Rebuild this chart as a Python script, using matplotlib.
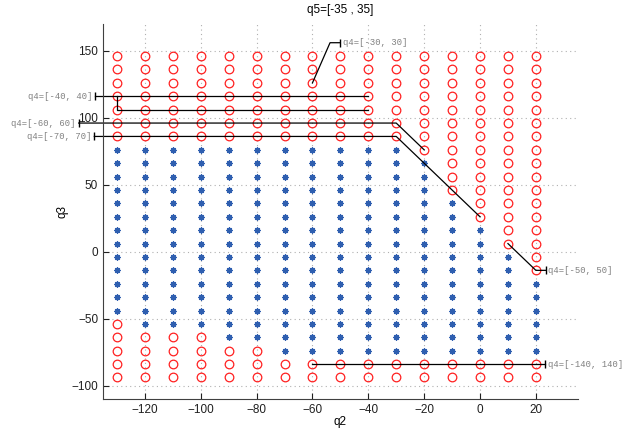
import numpy as np
import matplotlib.pyplot as plt

# grid of sampled q2 / q3 values
q2_vals = [-130, -120, -110, -100, -90, -80, -70, -60, -50, -40, -30, -20, -10, 0, 10, 20]
q3_vals = [146, 136, 126, 116, 106, 96, 86, 76, 66, 56, 46, 36, 26, 16, 6,
           -4, -14, -24, -34, -44, -54, -64, -74, -84, -94]

# feasible range per row: (first q2 with a star, last q2 with a star); None = all circles
star_from = [None, None, None, None, None, None, None,
             -130, -130, -130, -130, -130, -130, -130, -130,
             -130, -130, -130, -130, -130, -120, -90, -70, None, None]
star_to = [None, None, None, None, None, None, None,
           -30, -20, -20, -20, -10, -10, 0, 0,
           10, 10, 20, 20, 20, 20, 20, 20, None, None]

# boundary callouts: label, polyline q2, polyline q3
callouts = [
    ("q4=[-40, 40]", [-137.8, -40], [116, 116]),
    ("q4=[-60, 60]", [-143.7, -30, -20], [96, 96, 76]),
    ("q4=[-70, 70]", [-138.1, -30, 0], [86, 86, 26]),
    ("q4=[-30, 30]", [-50, -53.7, -60], [156, 156, 126]),
    ("q4=[-50, 50]", [23.5, 20, 10], [-14, -14, 6]),
    ("q4=[-140, 140]", [23.2, 20, -60], [-84, -84, -84]),
]
extra_q2 = [-130, -130, -40]
extra_q3 = [116, 106, 106]

ok_x, ok_y, bad_x, bad_y = [], [], [], []
for q3, lo, hi in zip(q3_vals, star_from, star_to):
    for q2 in q2_vals:
        if lo is not None and lo <= q2 <= hi:
            ok_x.append(q2)
            ok_y.append(q3)
        else:
            bad_x.append(q2)
            bad_y.append(q3)

plt.rcParams['font.family'] = ['Liberation Sans', 'DejaVu Sans']

fig = plt.figure(figsize=(6.28, 4.28), dpi=100)
ax = fig.add_axes([0.164, 0.068, 0.756, 0.876])

ax.plot(ok_x, ok_y, linestyle='none', marker=(8, 2, 0), markersize=4.5,
        markeredgewidth=0.9, color='#2f5fb0')
ax.plot(bad_x, bad_y, linestyle='none', marker='o', markersize=6.2,
        markerfacecolor='none', markeredgecolor='#ff2020', markeredgewidth=0.9)

for label, xs, ys in callouts:
    ax.plot(xs, ys, color='black', linewidth=0.9, clip_on=False)
    ax.plot(xs[0], ys[0], marker='|', markersize=6, color='black',
            markeredgewidth=1.0, clip_on=False)
    if xs[0] < -130:
        ax.text(xs[0] - 1.0, ys[0], label, ha='right', va='center',
                family='Liberation Mono', fontsize=6.4, color='#808080')
    else:
        ax.text(xs[0] + 1.0, ys[0], label, ha='left', va='center',
                family='Liberation Mono', fontsize=6.4, color='#808080')
ax.plot(extra_q2, extra_q3, color='black', linewidth=0.9)

ax.set_xlim(-135, 35)
ax.set_ylim(-110, 170)
ax.set_xticks(np.arange(-120, 21, 20))
ax.set_yticks(np.arange(-100, 151, 50))
ax.grid(True, linestyle=(0, (1, 3)), color='#b0b0b0', linewidth=0.8)
ax.set_axisbelow(True)
ax.tick_params(direction='in', length=4, labelsize=8.5, colors='#202020')
for s in ['top', 'right']:
    ax.spines[s].set_visible(False)
for s in ['left', 'bottom']:
    ax.spines[s].set_color('#404040')

ax.set_xlabel('q2', fontsize=8.5, labelpad=0)
ax.set_ylabel('q3', fontsize=8.5, labelpad=2)
ax.set_title('q5=[-35 , 35]', fontsize=8.5, pad=8)

fig.savefig('out.png', dpi=100)
